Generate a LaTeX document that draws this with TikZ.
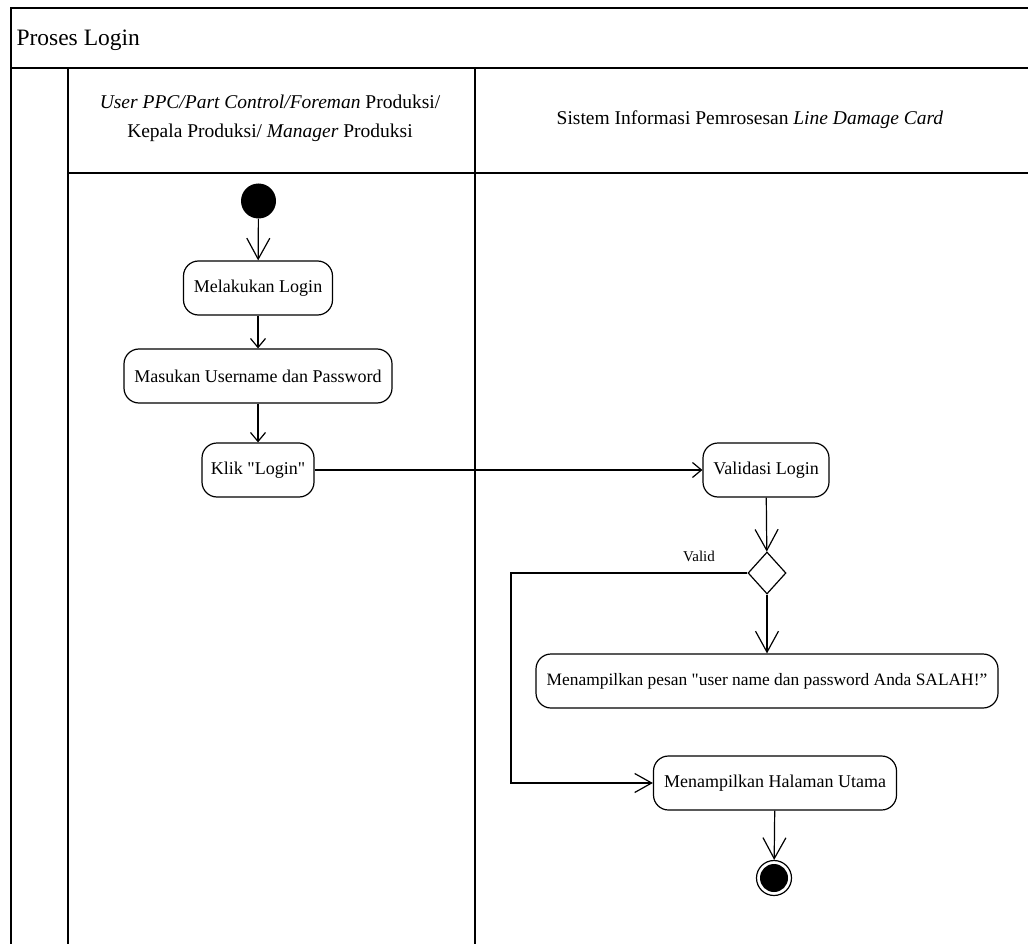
\documentclass[tikz,border=0pt]{standalone}
\usepackage{fontspec}
\setmainfont{Liberation Serif}[Ligatures=TeXOff]
\usetikzlibrary{arrows.meta,shapes.geometric}

\tikzset{
  frame/.style={line width=1.5pt, draw=black},
  action/.style={draw, line width=1.2pt, rounded corners=15pt, minimum height=54pt,
    inner sep=0pt, align=center, font=\fontsize{18}{21}\selectfont},
  flow/.style={line width=1.2pt},
  bighead/.style={flow, -{Straight Barb[length=21pt, width=23pt, line width=1.2pt]}},
  smallhead/.style={flow, -{Straight Barb[length=9pt, width=15pt, line width=1.2pt]}},
  lanehead/.style={align=center, font=\fontsize{19.5}{29}\selectfont},
}

\begin{document}
\begin{tikzpicture}[x=1pt, y=-1pt]
  \useasboundingbox (0,0) rectangle (1028,944);

  % pool and swimlanes
  \draw[frame] (1028,8) -- (11,8) -- (11,944);
  \draw[frame] (11,68) -- (1028,68);
  \draw[frame] (68,68) -- (68,944);
  \draw[frame] (475,68) -- (475,944);
  \draw[frame] (68,173) -- (1028,173);

  \node[anchor=west, font=\fontsize{23.5}{28}\selectfont] (title) at (13,40) {Proses Login};
  \node[lanehead] (laneA) at (270,118) {\textit{User PPC/Part Control/Foreman} Produksi/\\
    Kepala Produksi/ \textit{Manager} Produksi};
  \node[lanehead] (laneB) at (750,120) {Sistem Informasi Pemrosesan \textit{Line Damage Card}};

  % activities
  \node[circle, fill=black, minimum size=35pt, inner sep=0pt] (init) at (258.5,201) {};
  \node[action, minimum width=149pt] (login) at (258,288) {Melakukan Login};
  \node[action, minimum width=268pt] (input) at (258,376) {Masukan Username dan Password};
  \node[action, minimum width=112pt] (click) at (258,470) {Klik "Login"};
  \node[action, minimum width=126pt] (valid) at (766,470) {Validasi Login};
  \node[diamond, draw, line width=1.2pt, minimum width=38pt, minimum height=42pt,
    inner sep=0pt] (dec) at (767,573) {};
  \node[font=\fontsize{15}{18}\selectfont] (lbl) at (699,556) {Valid};
  \node[action, minimum width=462pt, font=\fontsize{17.4}{21}\selectfont] (error) at (767,681)
    {Menampilkan pesan "user name dan password Anda SALAH!”};
  \node[action, minimum width=243pt] (home) at (775,783) {Menampilkan Halaman Utama};
  \node[circle, draw, line width=1.2pt, minimum size=35pt, inner sep=0pt] (final) at (774,878) {};
  \node[circle, fill=black, minimum size=28pt, inner sep=0pt] (finaldot) at (final.center) {};

  % flows
  \draw[bighead] (init) -- (login);
  \draw[smallhead] (login) -- (input);
  \draw[smallhead] (input) -- (click);
  \draw[smallhead] (click) -- (valid);
  \draw[bighead] (valid) -- (dec);
  \draw[bighead] (dec) -- (error);
  \coordinate (bendA) at (511,573);
  \coordinate (bendB) at (511,783);
  \draw[flow, -{Straight Barb[length=17pt, width=19pt, line width=1.2pt]}]
    (dec.west) -- (bendA) -- (bendB) -- (home.west);
  \draw[bighead] (home) -- (final);
\end{tikzpicture}
\end{document}
